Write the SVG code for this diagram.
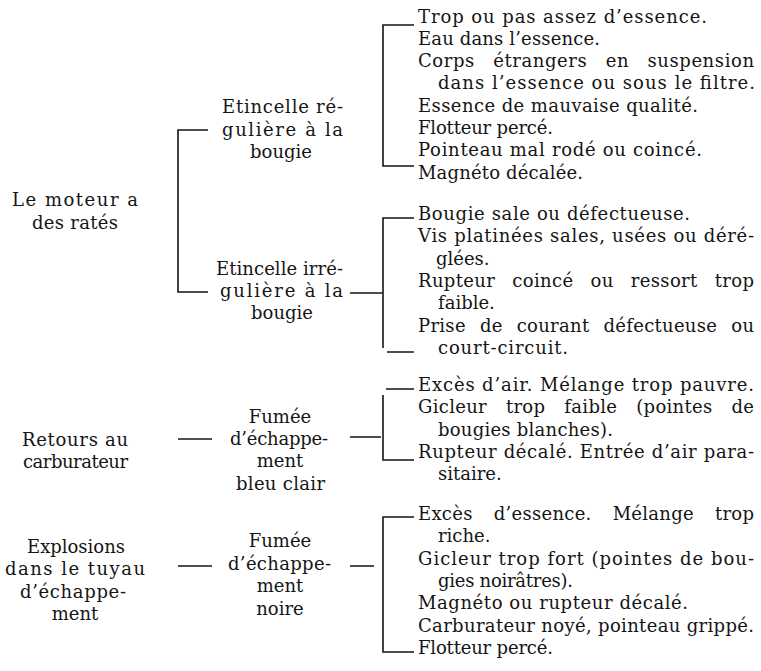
<svg xmlns="http://www.w3.org/2000/svg" width="761" height="671" viewBox="0 0 761 671">
<style>
text { font-family: "DejaVu Serif", "Liberation Serif", serif; font-size: 18px; fill: #151515; }
.c { text-anchor: middle; }
.ln { stroke: #151515; stroke-width: 1.6; fill: none; }
</style>
<rect width="761" height="671" fill="#ffffff"/>
<g id="connectors">
  <path class="ln" d="M208,130 H178 V292 H208"/>
  <path class="ln" d="M414,25 H383 V166 H414"/>
  <path class="ln" d="M350,293 H383 M414,218 H383 V348 M387,352 H414"/>
  <path class="ln" d="M350,437 H381 M414,389 H386 M383,395 V460 H414"/>
  <path class="ln" d="M350,566 H374 M414,517 H383 V652 H414"/>
  <path class="ln" d="M178,439 H212"/>
  <path class="ln" d="M178,566 H212"/>
</g>
<g id="n-moteur">
  <text x="12" y="206" textLength="126" lengthAdjust="spacing">Le moteur a</text>
  <text x="32" y="229" textLength="86" lengthAdjust="spacing">des ratés</text>
</g>
<g id="n-etincelle-reguliere">
  <text x="222" y="113" textLength="121" lengthAdjust="spacing">Etincelle ré-</text>
  <text x="222" y="136" textLength="121" lengthAdjust="spacing">gulière à la</text>
  <text class="c" x="281" y="158">bougie</text>
</g>
<g id="n-etincelle-irreguliere">
  <text x="216" y="275" textLength="127" lengthAdjust="spacing">Etincelle irré-</text>
  <text x="220" y="297" textLength="123" lengthAdjust="spacing">gulière à la</text>
  <text class="c" x="282" y="319">bougie</text>
</g>
<g id="n-retours">
  <text x="22" y="446" textLength="106" lengthAdjust="spacing">Retours au</text>
  <text x="23" y="468" textLength="105" lengthAdjust="spacing">carburateur</text>
</g>
<g id="n-fumee-bleu">
  <text class="c" x="280" y="423">Fumée</text>
  <text x="230" y="445" textLength="98" lengthAdjust="spacing">d’échappe-</text>
  <text class="c" x="280" y="467">ment</text>
  <text x="236" y="490" textLength="89" lengthAdjust="spacing">bleu clair</text>
</g>
<g id="n-explosions">
  <text x="27" y="553" textLength="98" lengthAdjust="spacing">Explosions</text>
  <text x="5" y="575" textLength="140" lengthAdjust="spacing">dans le tuyau</text>
  <text x="20" y="598" textLength="106" lengthAdjust="spacing">d’échappe-</text>
  <text class="c" x="75" y="620">ment</text>
</g>
<g id="n-fumee-noire">
  <text class="c" x="280" y="547">Fumée</text>
  <text x="228" y="570" textLength="103" lengthAdjust="spacing">d’échappe-</text>
  <text class="c" x="280" y="592">ment</text>
  <text class="c" x="280" y="615">noire</text>
</g>
<g id="n-causes-reguliere">
  <text x="418" y="22.5" textLength="289" lengthAdjust="spacing">Trop ou pas assez d’essence.</text>
  <text x="418" y="44.8" textLength="182" lengthAdjust="spacing">Eau dans l’essence.</text>
  <text x="418" y="67.1" textLength="336" lengthAdjust="spacing" word-spacing="12">Corps étrangers en suspension</text>
  <text x="438" y="89.4" textLength="317" lengthAdjust="spacing">dans l’essence ou sous le filtre.</text>
  <text x="418" y="111.7" textLength="280" lengthAdjust="spacing">Essence de mauvaise qualité.</text>
  <text x="418" y="134" textLength="135" lengthAdjust="spacing">Flotteur percé.</text>
  <text x="418" y="156.3" textLength="284" lengthAdjust="spacing">Pointeau mal rodé ou coincé.</text>
  <text x="418" y="178.6" textLength="165" lengthAdjust="spacing">Magnéto décalée.</text>
</g>
<g id="n-causes-irreguliere">
  <text x="418" y="220" textLength="272" lengthAdjust="spacing">Bougie sale ou défectueuse.</text>
  <text x="418" y="242.3" textLength="336" lengthAdjust="spacing">Vis platinées sales, usées ou déré-</text>
  <text x="436" y="264.6">glées.</text>
  <text x="418" y="286.9" textLength="336" lengthAdjust="spacing" word-spacing="11">Rupteur coincé ou ressort trop</text>
  <text x="438" y="309.2">faible.</text>
  <text x="418" y="331.5" textLength="336" lengthAdjust="spacing" word-spacing="8">Prise de courant défectueuse ou</text>
  <text x="438" y="353.8" textLength="130" lengthAdjust="spacing">court-circuit.</text>
</g>
<g id="n-causes-bleu">
  <text x="418" y="391" textLength="336" lengthAdjust="spacing">Excès d’air. Mélange trop pauvre.</text>
  <text x="418" y="413.3" textLength="336" lengthAdjust="spacing" word-spacing="13">Gicleur trop faible (pointes de</text>
  <text x="438" y="435.6" textLength="175" lengthAdjust="spacing">bougies blanches).</text>
  <text x="418" y="457.9" textLength="336" lengthAdjust="spacing">Rupteur décalé. Entrée d’air para-</text>
  <text x="438" y="480.2">sitaire.</text>
</g>
<g id="n-causes-noire">
  <text x="418" y="520" textLength="336" lengthAdjust="spacing" word-spacing="15">Excès d’essence. Mélange trop</text>
  <text x="438" y="542.3">riche.</text>
  <text x="418" y="564.6" textLength="336" lengthAdjust="spacing">Gicleur trop fort (pointes de bou-</text>
  <text x="438" y="586.9" textLength="135" lengthAdjust="spacing">gies noirâtres).</text>
  <text x="418" y="609.2" textLength="270" lengthAdjust="spacing">Magnéto ou rupteur décalé.</text>
  <text x="418" y="631.5" textLength="336" lengthAdjust="spacing">Carburateur noyé, pointeau grippé.</text>
  <text x="418" y="653.8" textLength="135" lengthAdjust="spacing">Flotteur percé.</text>
</g>
</svg>
